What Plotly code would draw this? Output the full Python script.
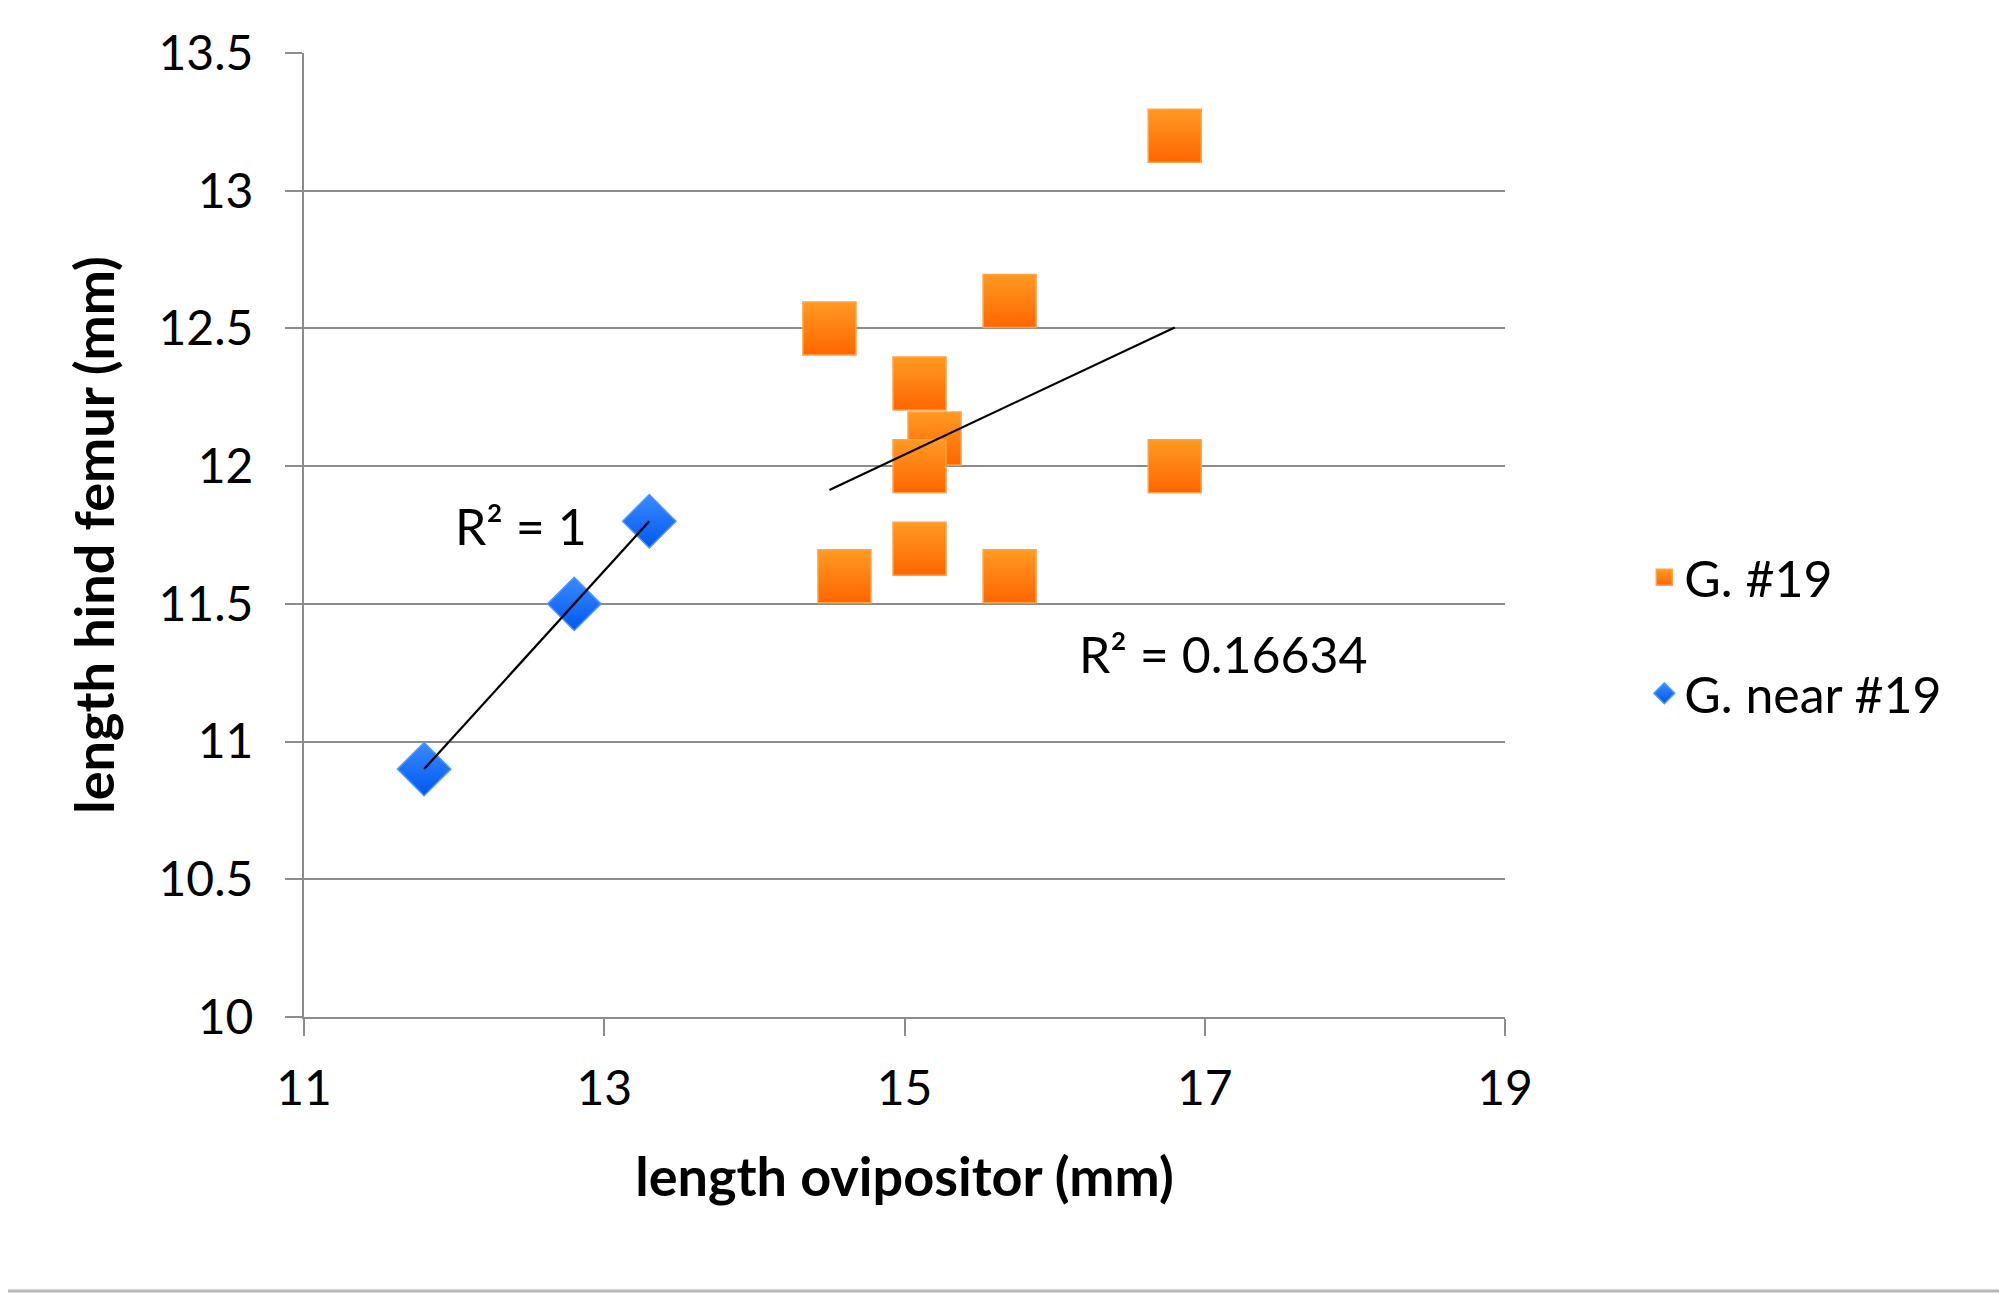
import numpy as np
import plotly.graph_objects as go

# ---- data ----
g19_x = [14.5, 15.2, 15.7, 16.8, 15.1, 15.1, 16.8, 14.6, 15.1, 15.7]
g19_y = [12.5, 12.1, 12.6, 13.2, 12.3, 12.0, 12.0, 11.6, 11.7, 11.6]
near_x = [11.8, 12.8, 13.3]
near_y = [10.9, 11.5, 11.8]
x_ticks = [11, 13, 15, 17, 19]
y_ticks = [10, 10.5, 11, 11.5, 12, 12.5, 13, 13.5]
x_title = "length ovipositor (mm)"
y_title = "length hind femur (mm)"
series_names = ["G. #19", "G. near #19"]

W, H = 2007, 1294
OFF = 8  # page body margin
ML, MT = 304 - OFF, 53 - OFF
MR = W - (1505 - OFF)
MB = H - (1017 - OFF)
FONT = "Lato"


def fit(xs, ys):
    xs = np.asarray(xs, float)
    ys = np.asarray(ys, float)
    m, b = np.polyfit(xs, ys, 1)
    r2 = np.corrcoef(xs, ys)[0, 1] ** 2
    xl = np.array([xs.min(), xs.max()])
    return xl, m * xl + b, r2


fx1, fy1, r2a = fit(g19_x, g19_y)
fx2, fy2, r2b = fit(near_x, near_y)

fig = go.Figure()
fig.add_trace(go.Scatter(
    x=g19_x, y=g19_y, mode="markers", name=series_names[0], legendgroup="a",
    marker=dict(symbol="square", size=53, color="#FF9A22",
                gradient=dict(type="vertical", color="#FF6600"),
                line=dict(color="#FFA347", width=1.5)),
))
fig.add_trace(go.Scatter(
    x=near_x, y=near_y, mode="markers", name=series_names[1], legendgroup="b",
    marker=dict(symbol="diamond", size=41, color="#3A8BFF",
                gradient=dict(type="vertical", color="#0057F0"),
                line=dict(color="#4D95FF", width=1.5)),
))
fig.add_trace(go.Scatter(x=fx1, y=fy1, mode="lines", showlegend=False,
                         line=dict(color="black", width=2.2), hoverinfo="skip"))
fig.add_trace(go.Scatter(x=fx2, y=fy2, mode="lines", showlegend=False,
                         line=dict(color="black", width=2.2), hoverinfo="skip"))

fig.add_annotation(x=12.445, y=11.784, text="R² = %g" % round(r2b, 5), showarrow=False,
                   font=dict(family=FONT, size=50, color="black"))
fig.add_annotation(x=17.12, y=11.318, text="R² = %.5f" % r2a, showarrow=False,
                   font=dict(family=FONT, size=50, color="black"))

pw = W - ML - MR
ph = H - MT - MB
line_y = -((1291 - OFF) - (H - MB)) / ph
fig.add_shape(type="line", xref="paper", yref="paper",
              x0=-1.0, x1=2.0, y0=line_y, y1=line_y,
              line=dict(color="#B8B8B8", width=3))

fig.update_layout(
    width=W, height=H,
    margin=dict(l=ML, r=MR, t=MT, b=MB, autoexpand=False),
    paper_bgcolor="white", plot_bgcolor="white",
    font=dict(family=FONT, size=48, color="black"),
    showlegend=True,
    legend=dict(x=1.116, y=0.396, xanchor="left", yanchor="middle",
                font=dict(family=FONT, size=50, color="black"),
                tracegroupgap=48, itemsizing="trace", bgcolor="rgba(0,0,0,0)"),
    xaxis=dict(range=[11, 19], tickvals=x_ticks, ticktext=[str(v) for v in x_ticks],
               showgrid=False, zeroline=False, showline=True, linecolor="#8C8C8C", linewidth=2,
               ticks="outside", ticklen=17, tickwidth=2, tickcolor="#8C8C8C",
               ticklabelstandoff=11, tickfont=dict(family=FONT, size=48),
               title=dict(text="<b>%s</b>" % x_title, standoff=45,
                          font=dict(family=FONT, size=54)),
               automargin=False),
    yaxis=dict(range=[10, 13.5], tickvals=y_ticks, ticktext=["%g" % v for v in y_ticks],
               showgrid=True, gridcolor="#8C8C8C", gridwidth=2, zeroline=False,
               showline=True, linecolor="#8C8C8C", linewidth=2,
               ticks="outside", ticklen=17, tickwidth=2, tickcolor="#8C8C8C",
               ticklabelstandoff=22, tickfont=dict(family=FONT, size=48),
               title=dict(text="<b>%s</b>" % y_title, standoff=27,
                          font=dict(family=FONT, size=54)),
               automargin=False),
)

fig.write_html("out.html")
